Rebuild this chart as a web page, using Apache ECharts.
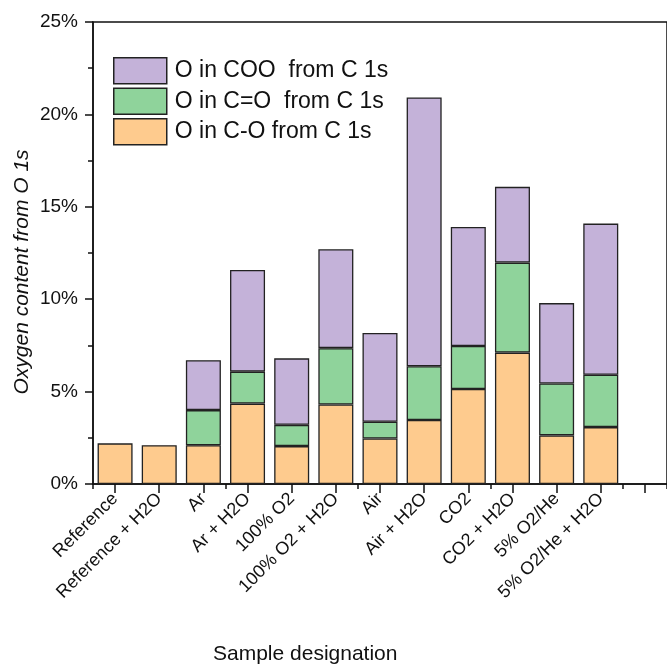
<!DOCTYPE html>
<html>
<head>
<meta charset="utf-8">
<script src="https://cdn.jsdelivr.net/npm/echarts@6/dist/echarts.min.js"></script>
<style>
  html, body { margin: 0; padding: 0; background: #fff; }
  #chart { width: 667px; height: 669px; }
</style>
</head>
<body>
<div id="chart"></div>
<script>
// sample designations (last slot on the axis is empty)
const categories = ['Reference', 'Reference + H2O', 'Ar', 'Ar + H2O', '100% O2', '100% O2 + H2O',
    'Air', 'Air + H2O', 'CO2', 'CO2 + H2O', '5% O2/He', '5% O2/He + H2O', ''];
// stacked segments, % of oxygen
const oInCO = [2.2, 2.1, 2.1, 4.35, 2.05, 4.3, 2.46, 3.46, 5.14, 7.11, 2.63, 3.08];
const oInCdO = [null, null, 1.9, 1.73, 1.15, 3.05, 0.91, 2.91, 2.33, 4.87, 2.81, 2.83];
const oInCOO = [null, null, 2.7, 5.5, 3.6, 5.35, 4.8, 14.55, 6.44, 4.1, 4.35, 8.18];
const yTicks = [0, 5, 10, 15, 20, 25];

const font = 'Liberation Sans, Arial, sans-serif';
const axisColor = '#111';
const border = {borderColor: '#222', borderWidth: 1.3};

let chart = echarts.init(document.getElementById('chart'));
chart.setOption({
    animation: false,
    textStyle: {fontFamily: font},
    grid: {
        left: 93,
        right: -1,
        top: 22,
        bottom: 185,
        show: true,
        borderColor: axisColor,
        borderWidth: 1.5,
    },
    legend: {
        orient: 'vertical',
        left: 113,
        top: 57,
        padding: 0,
        icon: 'rect',
        itemWidth: 53,
        itemHeight: 26,
        itemGap: 3,
        data: ['O in COO  from C 1s', 'O in C=O  from C 1s', 'O in C-O from C 1s'],
        textStyle: {fontSize: 23, color: '#111', fontFamily: font, padding: [0, 0, 0, 3]},
        itemStyle: {borderColor: '#222', borderWidth: 1.5},
    },
    xAxis: [
        {
            type: 'category',
            data: categories,
            axisLine: {lineStyle: {color: axisColor, width: 1.5}},
            axisTick: {show: true, alignWithLabel: true, length: 9, lineStyle: {color: axisColor, width: 1.5}},
            axisLabel: {
                interval: 0,
                rotate: 45,
                fontSize: 18,
                color: '#111',
                margin: 12,
                fontFamily: font,
            },
        },
        {
            // short ticks on category boundaries
            type: 'category',
            data: categories,
            position: 'bottom',
            axisLine: {show: false},
            axisTick: {show: true, length: 5, lineStyle: {color: axisColor, width: 1.5}},
            axisLabel: {show: false},
        }
    ],
    yAxis: {
        type: 'value',
        min: 0,
        max: 25,
        interval: 5,
        axisLine: {show: true, lineStyle: {color: axisColor, width: 1.5}},
        axisTick: {show: true, length: 8, lineStyle: {color: axisColor, width: 1.5}},
        minorTick: {show: true, splitNumber: 2, length: 5, lineStyle: {color: axisColor, width: 1.5}},
        splitLine: {show: false},
        axisLabel: {
            fontSize: 19,
            color: '#111',
            margin: 15,
            fontFamily: font,
            formatter: v => yTicks.includes(v) ? v + '%' : '',
        },
    },
    graphic: [
        {
            type: 'text',
            x: 22,
            y: 272,
            rotation: Math.PI / 2,
            style: {
                text: 'Oxygen content from O 1s',
                fontSize: 21,
                fontStyle: 'italic',
                fill: '#111',
                fontFamily: font,
                align: 'center',
                verticalAlign: 'middle',
            },
        },
        {
            type: 'text',
            left: 213,
            top: 644,
            style: {text: 'Sample designation', fontSize: 21, fill: '#111', fontFamily: font},
        }
    ],
    series: [
        {
            name: 'O in C-O from C 1s',
            type: 'bar',
            stack: 'o',
            barWidth: 35,
            data: oInCO,
            itemStyle: Object.assign({color: '#fecb8e'}, border),
        },
        {
            name: 'O in C=O  from C 1s',
            type: 'bar',
            stack: 'o',
            barWidth: 35,
            data: oInCdO,
            itemStyle: Object.assign({color: '#8fd39b'}, border),
        },
        {
            name: 'O in COO  from C 1s',
            type: 'bar',
            stack: 'o',
            barWidth: 35,
            data: oInCOO,
            itemStyle: Object.assign({color: '#c4b2d9'}, border),
        }
    ]
});
</script>
</body>
</html>
